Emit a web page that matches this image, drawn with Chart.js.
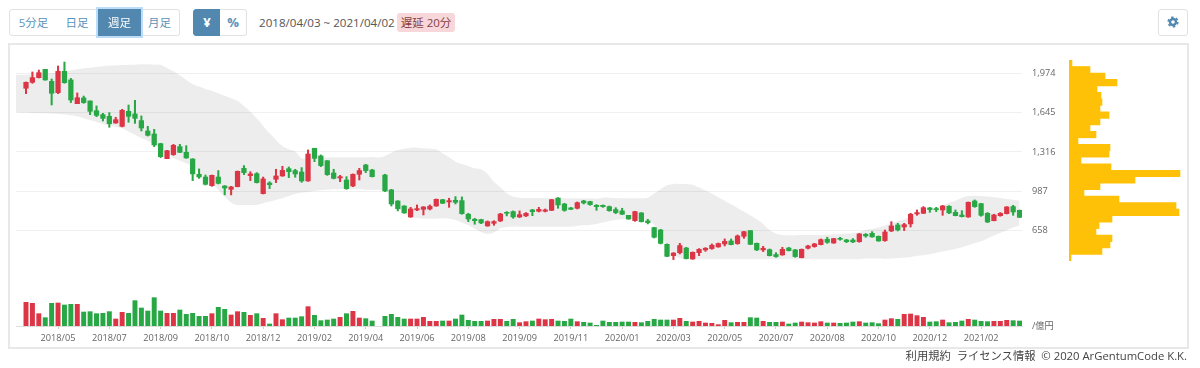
<!DOCTYPE html>
<html lang="ja">
<head>
<meta charset="utf-8">
<title>週足チャート</title>
<script src="https://cdn.jsdelivr.net/npm/chart.js@4"></script>
<style>
    html, body { margin: 0; padding: 0; background: #fff; }
    body { width: 1200px; height: 368px; position: relative; overflow: hidden;
           font-family: "Open Sans", "Noto Sans CJK JP", sans-serif; color: #555; }
    .btn { position: absolute; top: 9px; height: 25px; line-height: 25px; text-align: center; font-size: 11.5px;
           color: #5a93ba; background: #fff; border: 1px solid #e2e2e2; box-sizing: content-box; }
    .btn.on { background: #5288b0; color: #fff; border-color: #5288b0; }
    .btn.focus { box-shadow: 0 0 0 2px #bcdcf8; z-index: 2; }
    #range { position: absolute; left: 259px; top: 14px; font-size: 11.6px; line-height: 18px; white-space: nowrap; color: #555; }
    #delay { position: absolute; left: 397px; top: 13px; width: 58px; height: 19px; line-height: 19px; text-align: center;
             font-size: 11.5px; background: #f8d7da; color: #843f46; border-radius: 3px; }
    #frame { position: absolute; left: 8px; top: 43px; width: 1177px; height: 302px; border: 2px solid #e8e8e8; }
    #main { position: absolute; left: 0; top: 0; }
    #profile { position: absolute; left: 1069px; top: 60px; }
    #foot { position: absolute; right: 13px; top: 347px; font-size: 11.3px; line-height: 18px; color: #444; white-space: nowrap; }
    svg { vertical-align: -1px; }
</style>
</head>
<body>
<div class="btn" style="left:9px;width:47px;border-radius:3px 0 0 3px">5分足</div>
<div class="btn" style="left:57px;width:40px;border-left:0">日足</div>
<div class="btn on focus" style="left:98px;width:41px">週足</div>
<div class="btn" style="left:140px;width:39px;border-left:0;border-radius:0 3px 3px 0">月足</div>
<div class="btn on" style="left:193px;width:26px;font-weight:700;font-size:13px;border-radius:3px 0 0 3px">¥</div>
<div class="btn" style="left:220px;width:26px;font-weight:700;font-size:13px;border-left:0;border-radius:0 3px 3px 0">%</div>
<div id="range">2018/04/03 ~ 2021/04/02</div>
<div id="delay">遅延 20分</div>
<div class="btn" style="left:1158px;width:28px;border-radius:3px">
    <svg width="12" height="12" viewBox="0 0 12 12">
        <circle cx="6" cy="6" r="3" fill="none" stroke="#5288b0" stroke-width="2.4"></circle>
        <circle cx="6" cy="6" r="4.8" fill="none" stroke="#5288b0" stroke-width="1.6" stroke-dasharray="2.5 2.53"></circle>
    </svg>
</div>
<div id="frame"></div>
<canvas id="main" width="1200" height="368"></canvas>
<canvas id="profile" width="120" height="201"></canvas>
<div id="foot">利用規約&nbsp; ライセンス情報&nbsp; © 2020 ArGentumCode K.K.</div>

<script>
// weekly candles (yen). week 55 has no data
const opens = [
    1850, 1900, 1939, 2009, 1908, 1813, 1992, 1920, 1721, 1769,
    1744, 1662, 1629, 1615, 1559, 1531, 1657, 1635, 1579, 1492,
    1467, 1386, 1260, 1294, 1361, 1313, 1257, 1129, 1106, 1034,
    1106, 1031, 1003, 1025, 1179, 1118, 1134, 967, 1056, 1087,
    1115, 1176, 1160, 1148, 1073, 1347, 1283, 1243, 1140, 1098,
    1081, 1031, 1129, 1207, 1165, null, 1123, 998, 905, 863,
    771, 830, 835, 838, 863, 916, 897, 911, 908, 794,
    752, 749, 696, 718, 738, 810, 816, 771, 780, 830,
    819, 819, 827, 930, 880, 847, 844, 905, 900, 869,
    869, 858, 833, 822, 785, 740, 805, 738, 682, 662,
    542, 447, 472, 511, 419, 472, 495, 506, 520, 545,
    570, 548, 609, 657, 550, 495, 497, 456, 453, 511,
    495, 430, 509, 523, 539, 584, 553, 592, 578, 578,
    564, 626, 634, 609, 573, 654, 704, 687, 713, 796,
    802, 847, 841, 830, 861, 810, 788, 771, 905, 883,
    802, 740, 782, 799, 858, 827
];
const closes = [
    1900, 1939, 1981, 1920, 1808, 1992, 1897, 1752, 1771, 1730,
    1657, 1623, 1598, 1553, 1587, 1665, 1615, 1598, 1517, 1456,
    1375, 1277, 1327, 1372, 1313, 1266, 1132, 1106, 1045, 1120,
    1053, 1014, 1023, 1154, 1143, 1132, 1059, 1090, 1042, 1115,
    1162, 1151, 1132, 1073, 1299, 1263, 1202, 1126, 1095, 1109,
    1009, 1129, 1160, 1160, 1109, null, 989, 880, 841, 805,
    838, 841, 855, 861, 919, 886, 908, 894, 799, 754,
    740, 721, 732, 732, 796, 802, 771, 791, 802, 816,
    835, 830, 916, 872, 827, 835, 891, 889, 875, 858,
    858, 824, 808, 794, 754, 816, 732, 724, 601, 550,
    441, 469, 531, 422, 475, 500, 509, 534, 548, 567,
    539, 612, 648, 542, 495, 509, 447, 439, 500, 489,
    439, 500, 528, 545, 581, 559, 590, 584, 564, 562,
    629, 612, 604, 570, 645, 696, 662, 707, 794, 808,
    849, 833, 833, 863, 805, 782, 774, 894, 858, 785,
    729, 788, 802, 855, 813, 768
];
const highs = [
    1903, 1987, 2003, 2009, 1928, 2037, 2070, 1933, 1811, 1785,
    1744, 1702, 1640, 1646, 1607, 1674, 1710, 1749, 1618, 1531,
    1506, 1389, 1330, 1380, 1380, 1369, 1260, 1174, 1123, 1123,
    1160, 1034, 1028, 1157, 1202, 1151, 1143, 1106, 1067, 1171,
    1196, 1190, 1171, 1185, 1333, 1347, 1291, 1243, 1171, 1120,
    1109, 1132, 1179, 1213, 1171, null, 1129, 1003, 908, 866,
    852, 872, 858, 872, 922, 919, 928, 942, 939, 802,
    760, 752, 738, 740, 802, 816, 822, 822, 808, 835,
    852, 838, 919, 933, 886, 852, 897, 911, 903, 875,
    872, 863, 849, 844, 785, 819, 808, 752, 685, 668,
    545, 472, 550, 517, 478, 506, 514, 545, 553, 587,
    587, 620, 651, 657, 553, 525, 503, 472, 517, 517,
    500, 503, 534, 550, 587, 601, 592, 601, 584, 590,
    632, 632, 648, 612, 662, 732, 718, 718, 802, 830,
    858, 852, 852, 869, 866, 830, 824, 897, 914, 886,
    808, 794, 808, 858, 869, 830
];
const lows = [
    1805, 1892, 1936, 1917, 1710, 1805, 1892, 1730, 1721, 1724,
    1629, 1612, 1576, 1523, 1556, 1526, 1565, 1556, 1492, 1450,
    1361, 1269, 1260, 1288, 1310, 1263, 1076, 1095, 1039, 1028,
    1048, 956, 956, 1023, 1126, 1076, 1056, 964, 1009, 1059,
    1112, 1101, 1104, 1062, 1070, 1235, 1193, 1120, 1090, 1067,
    1003, 1025, 1081, 1143, 1106, null, 984, 863, 822, 802,
    768, 824, 788, 830, 861, 883, 852, 880, 794, 732,
    710, 715, 693, 701, 732, 780, 760, 766, 774, 782,
    813, 813, 824, 844, 819, 833, 838, 880, 869, 827,
    852, 819, 799, 791, 752, 735, 729, 713, 595, 545,
    439, 414, 461, 419, 416, 447, 483, 500, 517, 528,
    537, 542, 592, 539, 489, 481, 444, 433, 450, 486,
    433, 428, 503, 517, 537, 550, 550, 576, 556, 556,
    559, 601, 601, 567, 567, 648, 654, 657, 687, 785,
    799, 810, 816, 785, 799, 780, 771, 768, 852, 777,
    724, 738, 777, 796, 785, 766
];
// 億円
const volumes = [
    142, 136, 74, 50, 136, 138, 126, 130, 130, 84,
    86, 74, 76, 86, 42, 82, 76, 152, 108, 90,
    170, 90, 76, 76, 96, 70, 76, 58, 58, 74,
    112, 100, 66, 86, 82, 64, 74, 46, 12, 74,
    38, 48, 48, 56, 116, 64, 32, 36, 42, 52,
    74, 88, 48, 44, 30, null, 58, 70, 52, 42,
    42, 42, 52, 28, 28, 30, 30, 42, 66, 34,
    28, 28, 30, 40, 40, 28, 40, 20, 26, 30,
    42, 38, 40, 30, 28, 42, 26, 22, 18, 4,
    30, 22, 22, 24, 24, 22, 20, 28, 40, 36,
    36, 36, 46, 28, 24, 28, 18, 16, 8, 34,
    20, 22, 22, 50, 48, 28, 22, 22, 24, 12,
    18, 24, 20, 18, 26, 18, 18, 16, 18, 24,
    26, 18, 20, 14, 36, 44, 40, 70, 72, 62,
    52, 24, 26, 36, 20, 22, 30, 40, 36, 28,
    26, 28, 28, 34, 32, 30
];
// the band starts two weeks before the first candle
const bandWeeks = [-2, -1];
const upperBandLead = [1964, 1964];
const lowerBandLead = [1648, 1648];
const upperBand = [
    1964, 1967, 1970, 1973, 1978, 1984, 1992, 2001, 2009, 2017,
    2023, 2029, 2034, 2040, 2042, 2045, 2048, 2048, 2051, 2051,
    2048, 2048, 2020, 1992, 1959, 1920, 1886, 1864, 1844, 1830,
    1808, 1788, 1766, 1744, 1702, 1654, 1598, 1534, 1472, 1417,
    1366, 1338, 1319, 1263, 1266, 1269, 1269, 1269, 1271, 1271,
    1271, 1271, 1271, 1271, 1274, 1271, 1283, 1310, 1333, 1344,
    1352, 1352, 1347, 1344, 1338, 1305, 1271, 1235, 1215, 1199,
    1179, 1171, 1132, 1067, 1020, 970, 942, 933, 930, 930,
    930, 930, 928, 928, 928, 928, 928, 928, 928, 925,
    933, 933, 930, 928, 928, 928, 928, 933, 967, 1003,
    1037, 1048, 1048, 1048, 1042, 1020, 992, 967, 936, 908,
    877, 847, 816, 785, 752, 713, 662, 632, 620, 618,
    618, 620, 620, 620, 620, 623, 626, 629, 632, 634,
    645, 662, 671, 682, 699, 718, 735, 752, 774, 791,
    808, 830, 849, 869, 891, 908, 933, 947, 950, 947,
    942, 936, 930, 922, 916, 908
];
const lowerBand = [
    1646, 1643, 1640, 1640, 1637, 1635, 1632, 1623, 1615, 1598,
    1581, 1567, 1551, 1537, 1526, 1514, 1486, 1461, 1433, 1411,
    1375, 1341, 1305, 1263, 1243, 1221, 1193, 1143, 1095, 1053,
    998, 942, 891, 872, 872, 872, 872, 886, 900, 914,
    928, 947, 964, 975, 981, 989, 995, 1000, 1003, 1006,
    1006, 1003, 1003, 1000, 998, 998, 992, 942, 844, 802,
    774, 763, 757, 757, 757, 760, 757, 746, 724, 701,
    673, 643, 629, 640, 676, 687, 690, 690, 690, 690,
    690, 690, 690, 690, 690, 690, 696, 701, 704, 713,
    724, 738, 746, 752, 754, 754, 754, 746, 704, 620,
    523, 453, 425, 416, 416, 416, 416, 416, 416, 416,
    416, 416, 416, 416, 416, 416, 416, 416, 416, 416,
    416, 416, 416, 416, 416, 416, 416, 416, 416, 416,
    416, 422, 422, 422, 419, 422, 428, 430, 436, 444,
    450, 458, 469, 481, 492, 503, 517, 534, 550, 567,
    590, 615, 637, 659, 682, 699
];
const priceTicks = [658, 987, 1316, 1645, 1974];
const volumeUnit = '/億円';
const tickLabels = [
    '2018/05', '2018/07', '2018/09', '2018/10', '2018/12', '2019/02', '2019/04',
    '2019/06', '2019/08', '2019/09', '2019/11', '2020/01', '2020/03', '2020/05',
    '2020/07', '2020/08', '2020/10', '2020/12', '2021/02'
];
// price profile, top bin first
const profileBins = [
    3, 21, 36, 48, 28, 32, 33, 31, 40, 31,
    21, 27, 9, 41, 40, 12, 42, 111, 66, 31,
    15, 50, 107, 110, 43, 30, 27, 43, 41, 33, 2
];

const RED = '#dc3545';
const GREEN = '#28a745';
const GRID = '#f0f0f0';
const PRICE_MIN = -143;
const FONT = '"Open Sans", "Noto Sans CJK JP", sans-serif';
const TICK_WEEK = week => 5 + 8 * week;

const candleColors = opens.map((o, i) => closes[i] >= o ? RED : GREEN);

function bandPoints(lead, band) {
    const head = lead.map((y, i) => ({ x: bandWeeks[i], y: y }));
    return head.concat(band.map((y, i) => ({ x: i, y: y })));
}

new Chart(document.getElementById('main'), {
    data: {
        datasets: [
            {
                type: 'bar',
                label: '出来高',
                yAxisID: 'yVol',
                data: volumes.map((v, i) => ({ x: i, y: v })),
                backgroundColor: candleColors,
                barThickness: 4.3,
                grouped: false,
                order: 1
            },
            {
                type: 'bar',
                label: '始値-終値',
                yAxisID: 'y',
                data: opens.map((o, i) => ({ x: i, y: o === null ? null : [o, closes[i]] })),
                backgroundColor: candleColors,
                barThickness: 4.6,
                grouped: false,
                order: 1
            },
            {
                type: 'bar',
                label: '高値-安値',
                yAxisID: 'y',
                data: highs.map((h, i) => ({ x: i, y: h === null ? null : [lows[i], h] })),
                backgroundColor: candleColors,
                barThickness: 1.4,
                grouped: false,
                order: 2
            },
            {
                type: 'line',
                label: 'upper',
                yAxisID: 'y',
                data: bandPoints(upperBandLead, upperBand),
                borderWidth: 0,
                pointRadius: 0,
                tension: 0.3,
                backgroundColor: 'rgba(0,0,0,0.07)',
                fill: '+1',
                order: 3
            },
            {
                type: 'line',
                label: 'lower',
                yAxisID: 'y',
                data: bandPoints(lowerBandLead, lowerBand),
                borderWidth: 0,
                pointRadius: 0,
                tension: 0.3,
                fill: false,
                order: 3
            }
        ]
    },
    options: {
        responsive: false,
        animation: false,
        events: [],
        layout: { padding: { left: 16, right: 0, top: 50, bottom: 0 } },
        plugins: { legend: { display: false }, tooltip: { enabled: false } },
        scales: {
            x: {
                type: 'linear',
                offset: false,
                min: -1.56,
                max: 155.38,
                afterBuildTicks: scale => {
                    scale.ticks = tickLabels.map((_, i) => ({ value: TICK_WEEK(i) }));
                },
                afterFit: scale => {
                    scale.height = 368 - 326;
                    scale.paddingLeft = 0;
                    scale.paddingRight = 0;
                },
                border: { color: '#ddd' },
                grid: { offset: false, drawOnChartArea: false, tickLength: 3, tickColor: '#ccc' },
                ticks: {
                    autoSkip: false,
                    maxRotation: 0,
                    padding: 4,
                    color: '#666',
                    font: { family: FONT, size: 9.2 },
                    callback: (value, index) => tickLabels[index]
                }
            },
            y: {
                position: 'right',
                min: PRICE_MIN,
                max: 2171,
                afterBuildTicks: scale => {
                    scale.ticks = [{ value: PRICE_MIN }].concat(priceTicks.map(v => ({ value: v })));
                },
                afterFit: scale => {
                    scale.width = 1200 - 1022;
                    scale.paddingTop = 0;
                    scale.paddingBottom = 0;
                },
                border: { display: false },
                grid: {
                    drawTicks: false,
                    color: ctx => ctx.tick.value === PRICE_MIN ? 'rgba(0,0,0,0)' : GRID
                },
                ticks: {
                    padding: 10,
                    color: '#666',
                    font: { family: FONT, size: 9.2 },
                    callback: value => value === PRICE_MIN ? volumeUnit : value.toLocaleString('en-US')
                }
            },
            yVol: {
                display: false,
                min: 0,
                max: 1656
            }
        }
    }
});

new Chart(document.getElementById('profile'), {
    type: 'bar',
    data: {
        labels: profileBins.map((_, i) => i),
        datasets: [{
            label: '価格帯別出来高',
            data: profileBins,
            backgroundColor: '#ffc107',
            barPercentage: 1,
            categoryPercentage: 1
        }]
    },
    options: {
        indexAxis: 'y',
        responsive: false,
        animation: false,
        events: [],
        plugins: { legend: { display: false }, tooltip: { enabled: false } },
        scales: {
            x: { display: false, min: 0, max: 120 },
            y: { display: false }
        }
    }
});
</script>
</body>
</html>
